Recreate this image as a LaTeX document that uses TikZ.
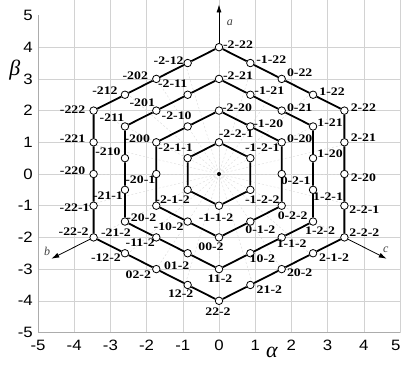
\documentclass[tikz,border=0pt]{standalone}
\usepackage{fontspec}
\setmainfont{Liberation Serif}
\newfontfamily\lblfont{Liberation Serif}[FakeStretch=1.2, BoldFeatures={FakeStretch=1.2}]
\newfontfamily\tickfont{Liberation Sans}[FakeStretch=1.12]
\usetikzlibrary{arrows.meta,calc}
\tikzset{
  gridline/.style={draw=gray!35, line width=0.5pt},
  axisline/.style={draw=gray!65, line width=0.8pt},
  radline/.style={draw=gray!30, line width=0.4pt, dash pattern=on 2pt off 2pt},
  hexline/.style={draw=black, line width=1.8pt},
  ptmark/.style={circle, draw=black, fill=white, line width=0.8pt, minimum size=7.5pt, inner sep=0pt},
  ctrdot/.style={circle, fill=black, minimum size=4pt, inner sep=0pt},
  lbl/.style={font=\lblfont\bfseries\fontsize{11.5}{11.5}\selectfont, inner sep=0pt},
  ticklbl/.style={font=\tickfont\fontsize{15}{15}\selectfont, inner sep=0pt},
  axlbl/.style={font=\itshape\fontsize{12}{12}\selectfont, text=black!75, inner sep=0pt},
  greeklbl/.style={font=\itshape\fontsize{22}{22}\selectfont, inner sep=0pt},
  axarrow/.style={draw=black, line width=0.8pt, -{Latex[length=8pt,width=5pt]}}
}
\newcommand\hpt[6]{%
  \node[ptmark] (#1) at (#2,#3) {};
  \node[lbl] (#1l) at ([shift={(#5pt,#6pt)}]#1.center) {#4};}
\begin{document}
\begin{tikzpicture}[x=36.2pt, y=31.7pt]
\useasboundingbox (-6.0497,-5.994) rectangle (5.0276,5.489);
% grid
\foreach \x in {-4,...,5} \draw[gridline] (\x,-5) -- (\x,5.5);
\foreach \y in {-4,...,4} \draw[gridline] (-5,\y) -- (5,\y);
\draw[axisline] (-5,5) -- (-5,-5) -- (5,-5);
% radial guide lines
\foreach \a in {0,15,...,345} \draw[radline] (0,0) -- (\a:3.5);
% tick labels
\foreach \x in {-5,...,4} \node[ticklbl] (xt\x) at ([yshift=-13pt]\x,-5) {\x};
\node[ticklbl, anchor=east] (xt5) at ([yshift=-13pt]5.02,-5) {5};
\foreach \y in {-5,...,5} \node[ticklbl, anchor=east] (yt\y) at ([xshift=-5pt]-5,\y) {\y};
\node[greeklbl] (alab) at (1.46,-5.64) {α};
\node[greeklbl] (blab) at (-5.64,3.28) {β};
% centre
\node[ctrdot] (o) at (0,0) {};
% ring 4
\hpt{r4p0}{0}{4}{-2-22}{19}{3}
\hpt{r4p1}{0.866}{3.5}{-1-22}{21}{3}
\hpt{r4p2}{1.732}{3}{0-22}{18}{6}
\hpt{r4p3}{2.598}{2.5}{1-22}{19}{3}
\hpt{r4p4}{3.464}{2}{2-22}{19}{3}
\hpt{r4p5}{3.464}{1}{2-21}{19}{5}
\hpt{r4p6}{3.464}{0}{2-20}{19}{-4}
\hpt{r4p7}{3.464}{-1}{2-2-1}{20}{-4}
\hpt{r4p8}{3.464}{-2}{2-2-2}{20}{5}
\hpt{r4p9}{2.598}{-2.5}{2-1-2}{21}{-4}
\hpt{r4p10}{1.732}{-3}{20-2}{18}{-4}
\hpt{r4p11}{0.866}{-3.5}{21-2}{19}{-5}
\hpt{r4p12}{0}{-4}{22-2}{-1}{-11}
\hpt{r4p13}{-0.866}{-3.5}{12-2}{-7}{-9}
\hpt{r4p14}{-1.732}{-3}{02-2}{-18}{-6}
\hpt{r4p15}{-2.598}{-2.5}{-12-2}{-19}{-4}
\hpt{r4p16}{-3.464}{-2}{-22-2}{-20}{6}
\hpt{r4p17}{-3.464}{-1}{-22-1}{-19}{-2}
\hpt{r4p18}{-3.464}{0}{-220}{-21}{3}
\hpt{r4p19}{-3.464}{1}{-221}{-21}{4}
\hpt{r4p20}{-3.464}{2}{-222}{-21}{1}
\hpt{r4p21}{-2.598}{2.5}{-212}{-20}{4}
\hpt{r4p22}{-1.732}{3}{-202}{-21}{3}
\hpt{r4p23}{-0.866}{3.5}{-2-12}{-19}{2}
% ring 3
\hpt{r3p0}{0}{3}{-2-21}{19}{3}
\hpt{r3p1}{0.866}{2.5}{-1-21}{19}{4}
\hpt{r3p2}{1.732}{2}{0-21}{18}{3}
\hpt{r3p3}{2.598}{1.5}{1-21}{17}{4}
\hpt{r3p4}{2.598}{0.5}{1-20}{17}{4}
\hpt{r3p5}{2.598}{-0.5}{1-2-1}{15}{-7}
\hpt{r3p6}{2.598}{-1.5}{1-2-2}{7}{-9}
\hpt{r3p7}{1.732}{-2}{1-1-2}{10}{-6}
\hpt{r3p8}{0.866}{-2.5}{10-2}{12}{-5}
\hpt{r3p9}{0}{-3}{11-2}{1}{-10}
\hpt{r3p10}{-0.866}{-2.5}{01-2}{-11}{-12}
\hpt{r3p11}{-1.732}{-2}{-11-2}{-16}{-5}
\hpt{r3p12}{-2.598}{-1.5}{-21-2}{-9}{-11}
\hpt{r3p13}{-2.598}{-0.5}{-21-1}{-17}{-6}
\hpt{r3p14}{-2.598}{0.5}{-210}{-17}{6}
\hpt{r3p15}{-2.598}{1.5}{-211}{-13}{9}
\hpt{r3p16}{-1.732}{2}{-201}{-14}{8}
\hpt{r3p17}{-0.866}{2.5}{-2-11}{-15}{11}
% ring 2
\hpt{r2p0}{0}{2}{-2-20}{18}{3}
\hpt{r2p1}{0.866}{1.5}{-1-20}{18}{3}
\hpt{r2p2}{1.732}{1}{0-20}{18}{4}
\hpt{r2p3}{1.732}{0}{0-2-1}{14}{-7}
\hpt{r2p4}{1.732}{-1}{0-2-2}{11}{-10}
\hpt{r2p5}{0.866}{-1.5}{0-1-2}{10}{-8}
\hpt{r2p6}{0}{-2}{00-2}{-8}{-9}
\hpt{r2p7}{-0.866}{-1.5}{-10-2}{-19}{-5}
\hpt{r2p8}{-1.732}{-1}{-20-2}{-15}{-12}
\hpt{r2p9}{-1.732}{0}{-20-1}{-16}{-6}
\hpt{r2p10}{-1.732}{1}{-200}{-19}{4}
\hpt{r2p11}{-0.866}{1.5}{-2-10}{-11}{11}
% ring 1
\hpt{r1p0}{0}{1}{-2-2-1}{17}{9}
\hpt{r1p1}{0.866}{0.5}{-1-2-1}{12}{10}
\hpt{r1p2}{0.866}{-0.5}{-1-2-2}{12}{-10}
\hpt{r1p3}{0}{-1}{-1-1-2}{-3}{-12}
\hpt{r1p4}{-0.866}{-0.5}{-2-1-2}{-15}{-10}
\hpt{r1p5}{-0.866}{0.5}{-2-1-1}{-12}{10}
% hexagon edges
\draw[hexline] (r4p0) -- (r4p1) -- (r4p2) -- (r4p3) -- (r4p4) -- (r4p5) -- (r4p6) -- (r4p7)
  -- (r4p8) -- (r4p9) -- (r4p10) -- (r4p11) -- (r4p12) -- (r4p13) -- (r4p14) -- (r4p15)
  -- (r4p16) -- (r4p17) -- (r4p18) -- (r4p19) -- (r4p20) -- (r4p21) -- (r4p22) -- (r4p23) -- (r4p0);
\draw[hexline] (r3p0) -- (r3p1) -- (r3p2) -- (r3p3) -- (r3p4) -- (r3p5) -- (r3p6) -- (r3p7)
  -- (r3p8) -- (r3p9) -- (r3p10) -- (r3p11) -- (r3p12) -- (r3p13) -- (r3p14) -- (r3p15)
  -- (r3p16) -- (r3p17) -- (r3p0);
\draw[hexline] (r2p0) -- (r2p1) -- (r2p2) -- (r2p3) -- (r2p4) -- (r2p5) -- (r2p6) -- (r2p7)
  -- (r2p8) -- (r2p9) -- (r2p10) -- (r2p11) -- (r2p0);
\draw[hexline] (r1p0) -- (r1p1) -- (r1p2) -- (r1p3) -- (r1p4) -- (r1p5) -- (r1p0);
% axes a, b, c
\coordinate (ta) at (0,5.35);
\coordinate (tb) at (-4.633,-2.675);
\coordinate (tc) at (4.633,-2.675);
\draw[axarrow] (r4p0) -- (ta);
\draw[axarrow] (r4p16) -- (tb);
\draw[axarrow] (r4p8) -- (tc);
\node[axlbl] (la) at (0.3,4.76) {a};
\node[axlbl] (lb) at (-4.75,-2.43) {b};
\node[axlbl] (lc) at (4.61,-2.4) {c};
\end{tikzpicture}
\end{document}
